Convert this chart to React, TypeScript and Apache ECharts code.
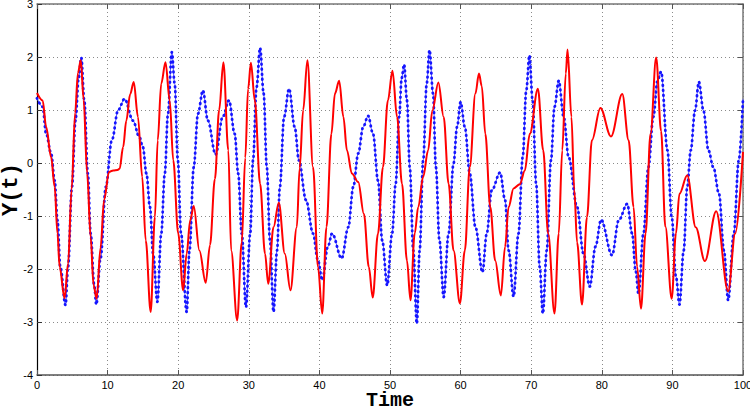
import React, { useEffect, useRef } from "react";
import * as echarts from "echarts";

// Red trajectory: time samples and Y(t) values
const redTime = [
  0, 0.8, 1.3, 2.0, 2.5, 2.9, 3.2, 3.9, 4.4, 4.9, 5.4, 5.8, 6.2, 6.6, 7.1, 7.6, 8.0, 8.45,
  9.0, 9.5, 10.2, 10.8, 11.4, 11.7, 12.2, 12.65, 13.2, 13.7, 14.3, 14.9, 15.4, 16.1, 16.7,
  17.1, 17.6, 18.2, 18.8, 19.3, 20.0, 20.7, 21.2, 21.7, 22.2, 23.0, 23.9, 24.5, 25.2, 25.8,
  26.4, 27.1, 27.5, 28.35, 29.0, 29.5, 29.9, 30.3, 30.85, 31.6, 32.3, 32.75, 33.5, 34.25,
  35.1, 35.9, 36.8, 37.2, 37.7, 38.3, 39.1, 39.8, 40.4, 41.0, 41.7, 42.2, 42.8, 43.4, 43.9,
  44.6, 45.5, 46.3, 47.0, 47.55, 48.3, 49.0, 49.7, 50.35, 51.0, 51.7, 52.4, 52.9, 53.5, 54.0,
  54.7, 55.4, 56.0, 56.85, 57.6, 58.3, 59.0, 59.9, 60.6, 61.3, 62.1, 62.6, 63.0, 63.5, 64.2,
  64.9, 65.7, 66.3, 66.8, 67.5, 68.4, 69.1, 69.8, 70.95, 71.7, 72.4, 73.3, 73.9, 74.4, 74.9,
  75.15, 75.7, 76.1, 76.5, 77.2, 77.9, 78.6, 79.8, 81.3, 82.9, 83.8, 84.5, 85.0, 85.55, 86.2,
  86.9, 87.7, 88.4, 89.0, 89.9, 90.5, 91.0, 92.1, 93.3, 94.6, 96.2, 97.9, 98.9, 100,
];
const redValue = [
  1.32, 1.18, 0.68, 0.11, -0.45, -1.33, -1.96, -2.55, -1.9, -0.5, 0.95, 1.7, 1.94, 1.2, -0.2,
  -1.4, -2.3, -2.56, -1.6, -0.7, -0.17, -0.14, -0.13, -0.11, 0.3, 0.8, 1.3, 1.53, 0.87, -0.26,
  -1.46, -2.81, -1.02, 0.43, 1.5, 1.9, 1.18, 0.05, -1.33, -2.4, -1.71, -1.08, -0.81, -1.65,
  -2.26, -1.55, -0.3, 1.0, 1.9, 0.24, -1.65, -2.97, -1.5, 0.1, 1.4, 1.89, 1.18, -0.39, -1.71,
  -2.28, -1.21, -0.75, -1.71, -2.4, -1.21, -0.1, 1.0, 1.94, -0.08, -1.96, -2.84, -1.21, 0.55,
  1.31, 1.55, 0.87, 0.24, -0.2, -0.36, -0.96, -1.96, -2.54, -1.33, -0.08, 1.18, 1.74, 0.87,
  -0.39, -1.84, -2.59, -1.33, -0.83, -0.26, 0.24, 0.99, 1.52, 0.87, -0.39, -1.65, -2.65, -1.65,
  -0.08, 1.31, 1.69, 1.45, 0.55, -0.83, -1.84, -2.5, -1.58, -0.83, -0.48, -0.4, -0.14, 0.55,
  1.4, 0.24, -1.33, -2.84, -1.33, 0.24, 1.69, 2.14, 0.87, -0.5, -1.5, -2.67, -1.02, 0.43, 1.04,
  0.5, 1.3, 0.43, -0.83, -1.96, -2.75, -1.33, 0.55, 1.99, 0.6, -1.2, -2.56, -1.33, -0.58,
  -0.23, -1.21, -1.85, -0.91, -2.42, -1.33, 0.21,
];

// Blue trajectory: time samples and Y(t) values
const blueTime = [
  0, 0.8, 1.3, 2.0, 2.5, 2.9, 3.3, 4.04, 4.4, 4.95, 5.45, 5.9, 6.27, 6.7, 7.2, 7.6, 8.1, 8.4,
  9.0, 9.75, 10.6, 11.5, 12.4, 13.6, 14.5, 15.0, 15.5, 16.0, 16.45, 17.05, 17.6, 18.1, 18.55,
  19.1, 19.5, 19.95, 20.4, 21.2, 21.6, 22.2, 22.8, 23.5, 24.2, 25.3, 26.3, 27.2, 28.0, 28.5,
  29.0, 29.6, 30.2, 30.6, 31.1, 31.6, 32.1, 32.55, 33.0, 33.5, 34.0, 34.4, 35.0, 35.7, 36.5,
  37.1, 38.1, 39.1, 39.8, 40.4, 41.2, 41.8, 43.15, 44.1, 44.8, 45.5, 46.2, 46.9, 47.6, 48.3,
  48.9, 49.6, 50.3, 50.8, 51.3, 51.65, 52.0, 52.4, 52.8, 53.3, 53.8, 54.2, 54.7, 55.2, 55.6,
  56.1, 56.5, 57.0, 57.6, 58.3, 59.0, 59.5, 60.0, 60.6, 61.3, 62.1, 63.1, 63.7, 64.4, 65.6,
  66.3, 66.8, 67.5, 68.2, 68.8, 69.3, 69.75, 70.2, 70.7, 71.2, 71.65, 72.2, 72.8, 73.3, 73.9,
  74.6, 75.3, 76.5, 77.4, 78.3, 79.1, 79.9, 81.45, 82.4, 83.6, 84.3, 84.8, 85.2, 85.9, 86.6,
  87.3, 87.9, 88.4, 89.3, 89.9, 90.5, 91.0, 91.6, 92.1, 92.6, 93.2, 93.75, 94.4, 95.1, 95.8,
  96.6, 97.3, 97.9, 98.7, 99.4, 100,
];
const blueValue = [
  1.22, 1.06, 0.55, 0.18, -0.33, -1.08, -1.96, -2.68, -1.96, -0.45, 0.8, 1.6, 1.99, 1.18, -0.2,
  -1.33, -2.3, -2.67, -1.8, -0.45, 0.43, 1.0, 1.21, 0.8, 0.49, 0.3, -0.2, -0.83, -1.71, -2.62,
  -1.33, -0.2, 0.93, 2.09, 1.5, 0.05, -1.33, -2.81, -1.65, -0.08, 0.93, 1.37, 0.8, 0.16, 0.87,
  1.18, 0.55, -0.2, -1.33, -2.72, -1.33, 0.05, 1.43, 2.17, 1.31, -0.08, -1.46, -2.81, -1.65,
  -0.45, 0.87, 1.4, 0.68, 0.05, -0.7, -1.33, -1.84, -2.21, -1.58, -1.33, -1.8, -1.21, -0.45,
  0.18, 0.68, 0.89, 0.55, -0.33, -1.46, -2.31, -1.33, -0.39, 0.87, 1.6, 1.86, 1.18, -0.08,
  -1.65, -3.03, -1.65, 0.05, 1.5, 2.13, 1.31, -0.08, -1.46, -2.53, -1.33, -0.01, 0.68, 1.15,
  0.68, -0.2, -1.21, -2.06, -1.33, -0.52, -0.18, -0.7, -1.65, -2.52, -1.33, 0.11, 1.37, 2.03,
  1.18, -0.39, -1.96, -2.84, -1.65, 0.05, 1.06, 1.55, 0.87, 0.11, -0.83, -1.71, -2.33, -1.58,
  -1.07, -1.74, -1.08, -0.77, -1.33, -2.04, -2.47, -1.33, -0.08, 0.87, 1.56, 1.72, 0.24, -1.02,
  -2.14, -2.67, -1.65, -0.45, 0.24, 0.99, 1.53, 0.99, 0.24, -0.08, -0.58, -1.65, -2.59, -1.33,
  0.05, 1.21,
];

const xTicks = [0, 10, 20, 30, 40, 50, 60, 70, 80, 90, 100];
const yTicks = [-4, -3, -2, -1, 0, 1, 2, 3];

const pairs = (ts: number[], vs: number[]) => ts.map((t, i) => [t, vs[i]]);

export default function App() {
  const ref = useRef<HTMLDivElement>(null);

  useEffect(() => {
    if (!ref.current) return;
    const chart = echarts.init(ref.current, null, { renderer: "svg" });
    const redData = pairs(redTime, redValue);
    const blueData = pairs(blueTime, blueValue);
    const tickFont = {
      fontFamily: "'Liberation Sans Narrow', 'Liberation Sans', sans-serif",
      fontSize: 11,
      color: "#000",
    };
    const nameFont = {
      fontFamily: "'Liberation Mono', 'DejaVu Sans Mono', monospace",
      fontWeight: "bold" as const,
      color: "#000",
    };
    const grid = { type: [1, 3] as number[], color: "#8a8a8a", width: 1 };
    chart.setOption({
      animation: false,
      backgroundColor: "#fff",
      grid: {
        left: 37,
        right: 7,
        top: 4,
        bottom: 34,
        containLabel: false,
        outerBoundsMode: "none",
      },
      xAxis: [
        {
          type: "value",
          min: xTicks[0],
          max: xTicks[xTicks.length - 1],
          interval: 10,
          axisLine: { show: true, onZero: false, lineStyle: { color: "#555", width: 1.5 } },
          axisTick: { show: true, inside: true, length: 5, lineStyle: { color: "#555" } },
          axisLabel: { ...tickFont, margin: 4 },
          splitLine: { show: true, lineStyle: grid },
          name: "Time",
          nameLocation: "middle",
          nameGap: 16,
          nameMoveOverlap: false,
          nameTextStyle: { ...nameFont, fontSize: 20, lineHeight: 18 },
        },
        {
          type: "value",
          position: "top",
          min: xTicks[0],
          max: xTicks[xTicks.length - 1],
          interval: 10,
          axisLine: { show: true, onZero: false, lineStyle: { color: "#777", width: 1.5 } },
          axisTick: { show: true, inside: true, length: 5, lineStyle: { color: "#555" } },
          axisLabel: { show: false },
          splitLine: { show: false },
        },
      ],
      yAxis: [
        {
          type: "value",
          min: yTicks[0],
          max: yTicks[yTicks.length - 1],
          interval: 1,
          axisLine: { show: true, onZero: false, lineStyle: { color: "#000", width: 1.2 } },
          axisTick: { show: true, inside: true, length: 5, lineStyle: { color: "#333" } },
          axisLabel: { ...tickFont, margin: 4 },
          splitLine: { show: true, lineStyle: grid },
          name: "Y(t)",
          nameLocation: "middle",
          nameGap: 16,
          nameMoveOverlap: false,
          nameRotate: 90,
          nameTextStyle: { ...nameFont, fontSize: 22, lineHeight: 20 },
        },
        {
          type: "value",
          position: "right",
          min: yTicks[0],
          max: yTicks[yTicks.length - 1],
          interval: 1,
          axisLine: { show: true, onZero: false, lineStyle: { color: "#777", width: 1.5 } },
          axisTick: { show: true, inside: true, length: 5, lineStyle: { color: "#555" } },
          axisLabel: { show: false },
          splitLine: { show: false },
        },
      ],
      series: [
        {
          name: "blue",
          type: "line",
          data: blueData,
          smooth: 0.35,
          smoothMonotone: "x",
          showSymbol: false,
          lineStyle: { color: "#5a5aff", width: 1 },
          z: 2,
        },
        {
          name: "blueMarkers",
          type: "line",
          data: blueData,
          smooth: 0.35,
          smoothMonotone: "x",
          showSymbol: false,
          lineStyle: { color: "#1414ff", width: 2.8, type: [0.5, 4.5], cap: "round" },
          z: 3,
        },
        {
          name: "red",
          type: "line",
          data: redData,
          smooth: 0.35,
          smoothMonotone: "x",
          showSymbol: false,
          lineStyle: { color: "#ff0000", width: 2 },
          z: 4,
        },
      ],
    });
    return () => chart.dispose();
  }, []);

  return <div ref={ref} style={{ width: 750, height: 409, position: "absolute", left: 0, top: 0 }} />;
}
